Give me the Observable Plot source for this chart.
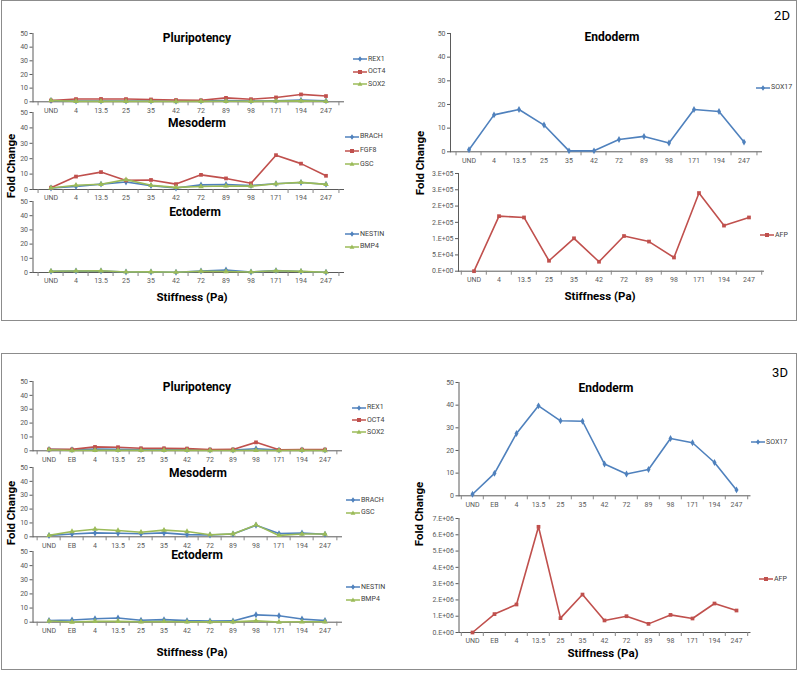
<!DOCTYPE html>
<html><head><meta charset="utf-8">
<script src="https://cdn.jsdelivr.net/npm/d3@7"></script>
<script src="https://cdn.jsdelivr.net/npm/@observablehq/plot@0.6"></script>
<style>
body{margin:0;background:#fff;}
#root{position:relative;width:800px;height:673px;overflow:hidden;font-family:Roboto,"Open Sans",sans-serif;}
.box{position:absolute;border:1.5px solid #8c8c8c;box-sizing:border-box;}
.abs{position:absolute;white-space:nowrap;line-height:1;}
.c{transform:translate(-50%,-50%);}
.title{font-weight:bold;font-size:12px;color:#000;}
.ax{font-weight:bold;font-size:11.5px;color:#000;}
.leg{font-size:7px;color:#404040;display:flex;align-items:center;transform:translateY(-50%);}
.tag{font-size:13px;color:#000;}
.plotwrap{position:absolute;}
</style></head>
<body><div id="root"></div>
<script>
// ---- categories ----
const cats2D = ["UND","4","13.5","25","35","42","72","89","98","171","194","247"];
const cats3D = ["UND","EB","4","13.5","25","35","42","72","89","98","171","194","247"];

// ---- 2D series ----
const rex1_2D   = [1.0, 0.5, 0.6, 0.5, 0.5, 0.4, 0.5, 0.9, 0.6, 0.8, 1.2, 0.7];
const oct4_2D   = [1.0, 2.0, 2.1, 2.0, 1.7, 1.3, 1.1, 2.9, 1.9, 3.2, 5.4, 4.2];
const sox2_2D   = [1.0, 0.3, 0.3, 0.3, 0.3, 0.2, 0.3, 0.4, 0.3, 0.5, 0.7, 0.4];
const brach_2D  = [1.0, 1.9, 3.5, 4.9, 2.5, 1.0, 3.0, 3.2, 2.6, 3.7, 4.5, 3.4];
const fgf8_2D   = [1.2, 8.4, 11.3, 5.9, 6.2, 3.5, 9.5, 7.2, 4.0, 22.3, 16.8, 8.9];
const gsc_2D    = [1.0, 2.8, 3.4, 6.4, 2.7, 1.4, 1.9, 2.3, 2.2, 3.7, 4.6, 3.3];
const nestin_2D = [0.8, 1.0, 1.1, 0.3, 0.4, 0.2, 1.0, 1.8, 0.3, 1.3, 0.7, 0.2];
const bmp4_2D   = [0.9, 1.1, 1.2, 0.4, 0.5, 0.2, 0.9, 0.7, 0.4, 1.2, 0.8, 0.2];
const sox17_2D  = [0.9, 15.6, 17.9, 11.3, 0.4, 0.4, 5.2, 6.5, 3.7, 17.9, 17.0, 4.1];
const afp_2D    = [0, 169000, 165000, 32000, 101000, 29000, 108000, 91000, 42000, 240000, 140000, 165000];

// ---- 3D series ----
const rex1_3D   = [1.0, 0.8, 1.2, 1.0, 0.9, 0.9, 0.8, 0.5, 0.5, 1.5, 0.5, 0.6, 0.5];
const oct4_3D   = [1.0, 1.0, 2.8, 2.6, 1.8, 1.8, 1.6, 0.9, 1.0, 6.1, 0.7, 0.9, 0.9];
const sox2_3D   = [0.8, 0.2, 0.3, 0.3, 0.3, 0.3, 0.3, 0.2, 0.2, 0.3, 0.2, 0.3, 0.2];
const brach_3D  = [1.0, 2.0, 2.8, 2.6, 2.2, 2.8, 1.6, 1.3, 2.0, 8.3, 2.3, 2.7, 1.8];
const gsc_3D    = [1.0, 3.8, 5.5, 4.5, 3.3, 4.8, 3.8, 1.5, 2.1, 8.6, 1.0, 2.0, 2.0];
const nestin_3D = [1.2, 1.6, 2.4, 3.0, 1.4, 1.8, 1.1, 0.8, 0.9, 5.2, 4.6, 2.2, 1.2];
const bmp4_3D   = [0.8, 0.1, 0.6, 0.6, 0.3, 0.5, 0.2, 0.2, 0.2, 0.9, 0.1, 0.3, 0.3];
const sox17_3D  = [0.7, 9.9, 27.5, 39.7, 33.1, 32.9, 14.0, 9.6, 11.6, 25.3, 23.4, 14.7, 2.6];
const afp_3D    = [0, 1130000, 1720000, 6490000, 880000, 2330000, 740000, 1000000, 530000, 1080000, 860000, 1780000, 1350000];

// ---- y tick values & labels ----
const foldTicks = [0, 10, 20, 30, 40, 50];
const afp2DTicks = [0, 50000, 100000, 150000, 200000, 250000, 300000];
const afp2DTickLabels = ["0.E+00","5.E+04","1.E+05","2.E+05","2.E+05","3.E+05","3.E+05"];
const afp3DTicks = [0, 1e6, 2e6, 3e6, 4e6, 5e6, 6e6, 7e6];
const afp3DTickLabels = ["0.E+00","1.E+06","2.E+06","3.E+06","4.E+06","5.E+06","6.E+06","7.E+06"];

// ---- texts ----
const panelTitles = ["Pluripotency","Mesoderm","Ectoderm","Endoderm"];
const axisX = "Stiffness (Pa)";
const axisY = "Fold Change";

const BLUE = "#4F81BD", RED = "#C0504D", GREEN = "#9BBB59";
const S = {
  blue: {color: BLUE, symbol: "diamond"},
  red: {color: RED, symbol: "square"},
  green: {color: GREEN, symbol: "triangle"}
};

const root = document.getElementById("root");

function el(cls, x, y, html, extra) {
  const d = document.createElement("div");
  d.className = "abs " + cls;
  d.style.left = x + "px"; d.style.top = y + "px";
  if (extra) d.style.cssText += extra;
  d.innerHTML = html;
  root.appendChild(d);
  return d;
}

function markerSvg(st) {
  let m;
  if (st.symbol === "square") m = `<rect x="5" y="2" width="4" height="4" fill="${st.color}"/>`;
  else if (st.symbol === "triangle") m = `<path d="M7,1.5 L9.4,5.8 L4.6,5.8Z" fill="${st.color}"/>`;
  else m = `<path d="M7,1.3 L9,4 L7,6.7 L5,4Z" fill="${st.color}"/>`;
  return `<svg width="14" height="8" style="display:block"><line x1="0" y1="4" x2="14" y2="4" stroke="${st.color}" stroke-width="1.5"/>${m}</svg>`;
}

function legend(x, ys, items) {
  items.forEach((it, i) => {
    el("leg", x, ys[i], markerSvg(it.st) + `<span style="margin-left:1px">${it.name}</span>`);
  });
}

function panel({cats, series, x0, x1, yTop, yZero, left, max, ticks, tickLabels}) {
  const mt = 6, mb = 22, mr = 6;
  const width = x1 - left + mr;
  const height = (yZero - yTop) + mt + mb;
  const bw = (x1 - x0) / cats.length;
  const tl = max * 4 / (yZero - yTop);
  const labelMap = new Map(ticks.map((t, i) => [t, tickLabels ? tickLabels[i] : String(t)]));
  const marks = [
    Plot.ruleX(cats, {x: d => d, y1: 0, y2: -tl, dx: -bw / 2, stroke: "#868686"}),
    Plot.ruleX([cats[cats.length - 1]], {x: d => d, y1: 0, y2: -tl, dx: bw / 2, stroke: "#868686"})
  ];
  for (const s of series) {
    const data = s.values.map((v, i) => ({cat: cats[i], v}));
    marks.push(Plot.line(data, {x: "cat", y: "v", stroke: s.st.color, strokeWidth: 1.6}));
    marks.push(Plot.dot(data, {x: "cat", y: "v", fill: s.st.color, symbol: s.st.symbol, r: 2.1}));
  }
  const svg = Plot.plot({
    width, height,
    marginLeft: x0 - left, marginRight: mr, marginTop: mt, marginBottom: mb,
    style: {background: "transparent", overflow: "visible", fontFamily: "Roboto, sans-serif", fontSize: "7px", color: "#5a5a5a"},
    x: {type: "band", domain: cats, padding: 0, tickSize: 0, tickPadding: 6, label: null, line: true},
    y: {domain: [0, max], ticks, tickFormat: d => labelMap.get(d), tickSize: 3, tickPadding: 2, line: true, label: null},
    marks
  });
  const w = document.createElement("div");
  w.className = "plotwrap";
  w.style.left = left + "px";
  w.style.top = (yTop - mt) + "px";
  w.appendChild(svg);
  root.appendChild(w);
}

// outer boxes
el("box", 1, 0, "", "width:796px;height:321px;");
el("box", 1, 353, "", "width:796px;height:317px;");

// ---------- 2D ----------
panel({cats: cats2D, x0: 32.5, x1: 343, yTop: 32.7, yZero: 101, left: 0, max: 50, ticks: foldTicks,
  series: [{values: rex1_2D, st: S.blue}, {values: oct4_2D, st: S.red}, {values: sox2_2D, st: S.green}]});
panel({cats: cats2D, x0: 32.5, x1: 343, yTop: 112.3, yZero: 189.3, left: 0, max: 50, ticks: foldTicks,
  series: [{values: brach_2D, st: S.blue}, {values: fgf8_2D, st: S.red}, {values: gsc_2D, st: S.green}]});
panel({cats: cats2D, x0: 32.5, x1: 343, yTop: 200.7, yZero: 271.7, left: 0, max: 50, ticks: foldTicks,
  series: [{values: nestin_2D, st: S.blue}, {values: bmp4_2D, st: S.green}]});
panel({cats: cats2D, x0: 450, x1: 761, yTop: 32.7, yZero: 151, left: 400, max: 50, ticks: foldTicks,
  series: [{values: sox17_2D, st: S.blue}]});
panel({cats: cats2D, x0: 458, x1: 763, yTop: 173.3, yZero: 271, left: 400, max: 300000, ticks: afp2DTicks, tickLabels: afp2DTickLabels,
  series: [{values: afp_2D, st: S.red}]});

// ---------- 3D ----------
panel({cats: cats3D, x0: 32.5, x1: 341, yTop: 380.7, yZero: 450, left: 0, max: 50, ticks: foldTicks,
  series: [{values: rex1_3D, st: S.blue}, {values: oct4_3D, st: S.red}, {values: sox2_3D, st: S.green}]});
panel({cats: cats3D, x0: 32.5, x1: 341, yTop: 466.7, yZero: 536, left: 0, max: 50, ticks: foldTicks,
  series: [{values: brach_3D, st: S.blue}, {values: gsc_3D, st: S.green}]});
panel({cats: cats3D, x0: 32.5, x1: 341, yTop: 551, yZero: 621.7, left: 0, max: 50, ticks: foldTicks,
  series: [{values: nestin_3D, st: S.blue}, {values: bmp4_3D, st: S.green}]});
panel({cats: cats3D, x0: 458.5, x1: 749.5, yTop: 381.7, yZero: 495, left: 400, max: 50, ticks: foldTicks,
  series: [{values: sox17_3D, st: S.blue}]});
panel({cats: cats3D, x0: 458.5, x1: 749.5, yTop: 517.7, yZero: 631.7, left: 400, max: 7000000, ticks: afp3DTicks, tickLabels: afp3DTickLabels,
  series: [{values: afp_3D, st: S.red}]});

// titles
el("title c", 197, 38, panelTitles[0]);
el("title c", 197, 123, panelTitles[1]);
el("title c", 195, 212, panelTitles[2]);
el("title c", 612, 37, panelTitles[3]);
el("title c", 197, 387, panelTitles[0]);
el("title c", 198, 473, panelTitles[1]);
el("title c", 197, 555, panelTitles[2]);
el("title c", 606, 388, panelTitles[3]);

// axis titles
el("ax c", 192, 298, axisX);
el("ax c", 600, 297, axisX);
el("ax c", 192, 653, axisX);
el("ax c", 603, 654, axisX);
el("ax", 12, 166, axisY, "transform:translate(-50%,-50%) rotate(-90deg);");
el("ax", 421, 163, axisY, "transform:translate(-50%,-50%) rotate(-90deg);");
el("ax", 12, 513, axisY, "transform:translate(-50%,-50%) rotate(-90deg);");
el("ax", 420, 514, axisY, "transform:translate(-50%,-50%) rotate(-90deg);");

// 2D / 3D tags
el("tag c", 782, 15, "2D");
el("tag c", 780, 372, "3D");

// legends
legend(353, [59, 71.7, 84], [{name: "REX1", st: S.blue}, {name: "OCT4", st: S.red}, {name: "SOX2", st: S.green}]);
legend(345, [136.7, 150.7, 164], [{name: "BRACH", st: S.blue}, {name: "FGF8", st: S.red}, {name: "GSC", st: S.green}]);
legend(345, [234.3, 246.7], [{name: "NESTIN", st: S.blue}, {name: "BMP4", st: S.green}]);
legend(756, [87.7], [{name: "SOX17", st: S.blue}]);
legend(760, [235], [{name: "AFP", st: S.red}]);
legend(352, [407.7, 420, 432.3], [{name: "REX1", st: S.blue}, {name: "OCT4", st: S.red}, {name: "SOX2", st: S.green}]);
legend(346, [500, 512.7], [{name: "BRACH", st: S.blue}, {name: "GSC", st: S.green}]);
legend(346, [587.3, 599.7], [{name: "NESTIN", st: S.blue}, {name: "BMP4", st: S.green}]);
legend(751, [442.3], [{name: "SOX17", st: S.blue}]);
legend(759, [579.3], [{name: "AFP", st: S.red}]);
</script>
</body></html>
